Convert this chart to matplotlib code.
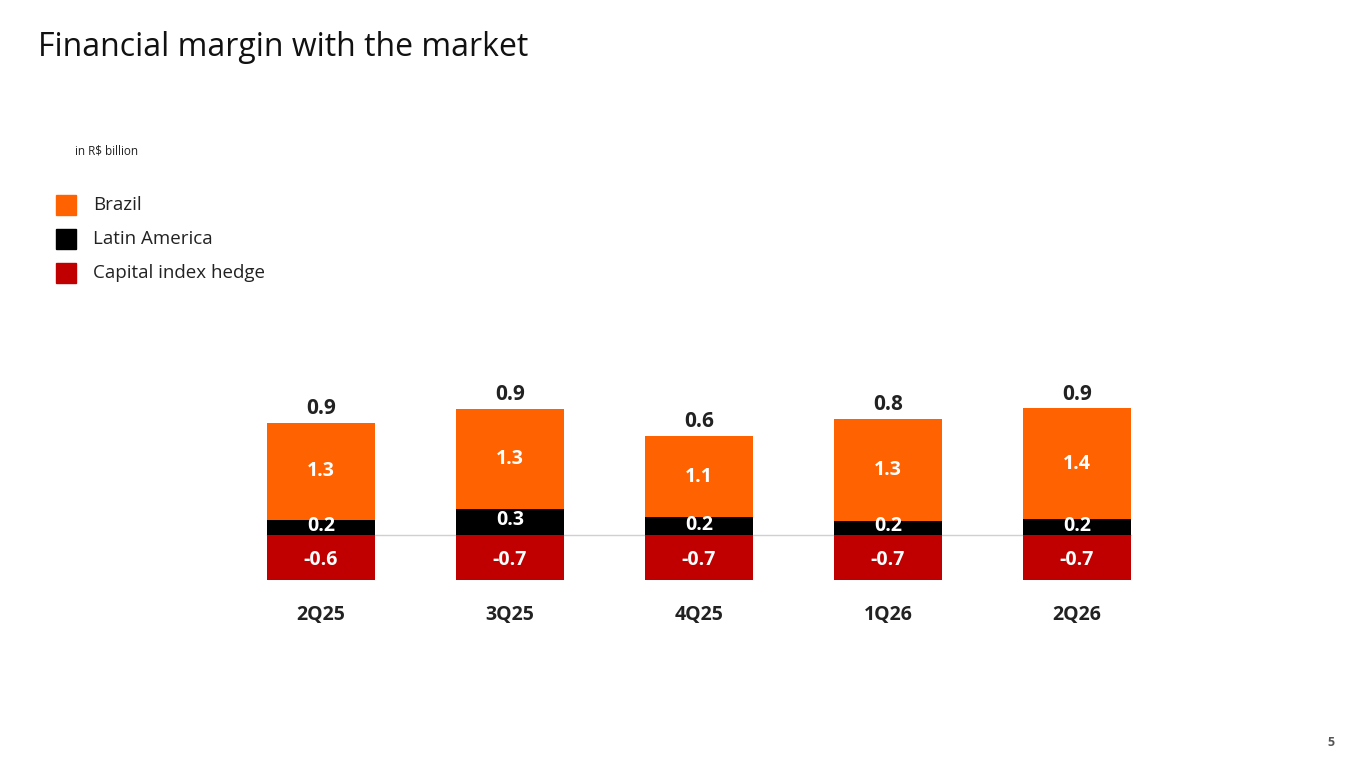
import matplotlib.pyplot as plt
import numpy as np

plt.rcParams['font.family'] = ['Open Sans', 'DejaVu Sans']

quarters = ['2Q25', '3Q25', '4Q25', '1Q26', '2Q26']
brazil = [1.30, 1.33, 1.08, 1.36, 1.48]
latam = [0.20, 0.35, 0.24, 0.19, 0.21]
hedge = [-0.60, -0.60, -0.60, -0.60, -0.60]
brazil_lbl = ['1.3', '1.3', '1.1', '1.3', '1.4']
latam_lbl = ['0.2', '0.3', '0.2', '0.2', '0.2']
hedge_lbl = ['-0.6', '-0.7', '-0.7', '-0.7', '-0.7']
total_lbl = ['0.9', '0.9', '0.6', '0.8', '0.9']

c_br, c_la, c_he = '#FF6200', '#000000', '#C00000'

fig = plt.figure(figsize=(13.65, 7.68), dpi=100)
ax = fig.add_axes([0, 0, 1, 1])
ax.set_xlim(-321 / 189, (1365 - 321) / 189)
ax.set_ylim(-233 / 75, 535 / 75)
ax.axis('off')

x = np.arange(len(quarters))
w = 0.575
ax.plot([x[0] - w / 2, x[-1] + w / 2], [0, 0], color='#d0d0d0', lw=1, zorder=0)
ax.bar(x, hedge, w, color=c_he)
ax.bar(x, latam, w, color=c_la)
ax.bar(x, brazil, w, bottom=latam, color=c_br)

for i in x:
    ax.text(i, latam[i] + brazil[i] / 2, brazil_lbl[i], ha='center', va='center',
            color='white', fontsize=14, fontweight='bold')
    ax.text(i, latam[i] / 2 + 0.02, latam_lbl[i], ha='center', va='center',
            color='white', fontsize=14, fontweight='bold')
    ax.text(i, hedge[i] / 2 - 0.03, hedge_lbl[i], ha='center', va='center',
            color='white', fontsize=14, fontweight='bold')
    ax.text(i, latam[i] + brazil[i] + 0.05, total_lbl[i], ha='center', va='bottom',
            color='#222222', fontsize=15, fontweight='bold')
    ax.text(i, -1.07, quarters[i], ha='center', va='center',
            color='#222222', fontsize=14, fontweight='bold')

fig.text(38 / 1365, 1 - 48 / 768, 'Financial margin with the market', fontsize=23,
         color='#111111', va='center', ha='left')
fig.text(75 / 1365, 1 - 151 / 768, 'in R$ billion', fontsize=8.5, color='#222222', va='center')

legend = [('Brazil', c_br), ('Latin America', c_la), ('Capital index hedge', c_he)]
for k, (name, col) in enumerate(legend):
    py = 205 + 34 * k
    fig.patches.append(plt.Rectangle((56 / 1365, 1 - (py + 10) / 768), 20 / 1365, 20 / 768,
                                     transform=fig.transFigure, color=col))
    fig.text(93 / 1365, 1 - py / 768, name, fontsize=13.5, color='#222222', va='center')

fig.text(1327 / 1365, 1 - 742 / 768, '5', fontsize=9, color='#555555', va='center',
         fontweight='bold')

fig.savefig('out.png', dpi=100)
